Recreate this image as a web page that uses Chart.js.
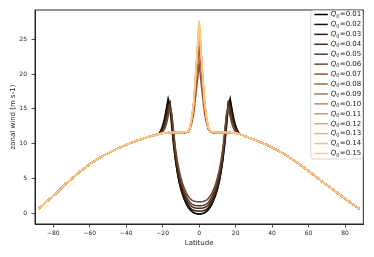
<!DOCTYPE html>
<html>
<head>
<meta charset="utf-8">
<script src="https://cdn.jsdelivr.net/npm/chart.js@4.4.1/dist/chart.umd.min.js"></script>
<style>
  html, body { margin: 0; padding: 0; background: #fff; }
</style>
</head>
<body>
<canvas id="windChart" width="374" height="257"></canvas>
<script>
// ---------- Data ----------
const qLabels = ["0.01","0.02","0.03","0.04","0.05","0.06","0.07","0.08","0.09","0.10","0.11","0.12","0.13","0.14","0.15"];

const outerLatsSouth = [-88,-86,-84,-82,-80,-78,-76,-74,-72,-70,-68,-66,-64,-62,-60,-58,-56,-54,-52,-50,-48,-46,-44,-42,-40,-38,-36,-34,-32,-30,-28,-26,-24];
const outerWindSouth = [0.65,1.1,1.6,2.05,2.5,3.0,3.5,4.05,4.5,4.95,5.4,5.85,6.25,6.65,7.05,7.4,7.75,8.05,8.35,8.65,8.9,9.15,9.4,9.6,9.85,10.05,10.25,10.45,10.6,10.8,10.95,11.1,11.25];

const centerLats = [-22,-21,-20,-19,-18,-17,-16,-15,-14,-13,-12,-11,-10,-9,-8,-7,-6,-5,-4,-3,-2,-1,0,1,2,3,4,5,6,7,8,9,10,11,12,13,14,15,16,17,18,19,20,21,22];

const outerLatsNorth = [24,26,28,30,32,34,36,38,40,42,44,46,48,50,52,54,56,58,60,62,64,66,68,70,72,74,76,78,80,82,84,86,88];
const outerWindNorth = [11.2,11.0,10.8,10.6,10.4,10.15,9.95,9.7,9.45,9.2,8.9,8.6,8.3,7.95,7.6,7.25,6.85,6.45,6.05,5.65,5.25,4.85,4.45,4.05,3.7,3.3,2.9,2.5,2.1,1.7,1.3,0.95,0.65];

// equatorial band (-22..22) for each Q0
const windEq01 = [11.4,11.9,12.6,13.6,15.0,16.5,15.4,12.4,9.8,7.6,5.9,4.5,3.4,2.6,1.9,1.3,0.85,0.5,0.25,0.05,-0.05,-0.1,-0.12,-0.1,-0.05,0.05,0.25,0.5,0.85,1.3,1.9,2.6,3.4,4.5,5.9,7.6,9.8,12.4,15.4,16.5,15.0,13.6,12.6,11.9,11.4];
const windEq02 = [11.4,11.8,12.4,13.3,14.6,16.2,15.8,12.9,10.1,7.8,6.0,4.6,3.5,2.65,1.95,1.35,0.9,0.55,0.3,0.1,0.0,-0.04,-0.05,-0.04,0.0,0.1,0.3,0.55,0.9,1.35,1.95,2.65,3.5,4.6,6.0,7.8,10.1,12.9,15.8,16.2,14.6,13.3,12.4,11.8,11.4];
const windEq03 = [11.4,11.7,12.2,13.0,14.2,15.6,16.0,13.4,10.5,8.1,6.3,4.9,3.8,2.9,2.2,1.6,1.15,0.8,0.57,0.43,0.36,0.33,0.33,0.33,0.36,0.43,0.57,0.8,1.15,1.6,2.2,2.9,3.8,4.9,6.3,8.1,10.5,13.4,16.0,15.6,14.2,13.0,12.2,11.7,11.4];
const windEq04 = [11.4,11.6,12.0,12.7,13.7,15.0,15.8,13.8,10.9,8.5,6.7,5.3,4.2,3.3,2.6,2.0,1.5,1.2,0.95,0.82,0.75,0.72,0.72,0.72,0.75,0.82,0.95,1.2,1.5,2.0,2.6,3.3,4.2,5.3,6.7,8.5,10.9,13.8,15.8,15.0,13.7,12.7,12.0,11.6,11.4];
const windEq05 = [11.4,11.55,11.85,12.4,13.3,14.5,15.4,14.1,11.3,8.9,7.1,5.7,4.6,3.7,3.0,2.4,1.9,1.55,1.32,1.18,1.12,1.09,1.09,1.09,1.12,1.18,1.32,1.55,1.9,2.4,3.0,3.7,4.6,5.7,7.1,8.9,11.3,14.1,15.4,14.5,13.3,12.4,11.85,11.55,11.4];
const windEq06 = [11.4,11.5,11.7,12.1,12.8,13.9,15.0,14.3,11.8,9.4,7.6,6.2,5.1,4.2,3.5,2.9,2.45,2.1,1.88,1.75,1.69,1.67,1.67,1.67,1.69,1.75,1.88,2.1,2.45,2.9,3.5,4.2,5.1,6.2,7.6,9.4,11.8,14.3,15.0,13.9,12.8,12.1,11.7,11.5,11.4];
const windEq07 = [11.4,11.45,11.5,11.5,11.5,11.5,11.5,11.5,11.5,11.5,11.5,11.5,11.5,11.5,11.55,11.6,11.7,12.1,13.0,14.3,16.55,18.9,21.5,18.9,16.55,14.3,13.0,12.1,11.7,11.6,11.55,11.5,11.5,11.5,11.5,11.5,11.5,11.5,11.5,11.5,11.5,11.5,11.5,11.45,11.4];
const windEq08 = [11.4,11.45,11.5,11.55,11.55,11.55,11.55,11.55,11.55,11.55,11.55,11.55,11.55,11.55,11.6,11.65,11.75,12.2,13.3,15.0,17.8,20.8,24.0,20.8,17.8,15.0,13.3,12.2,11.75,11.65,11.6,11.55,11.55,11.55,11.55,11.55,11.55,11.55,11.55,11.55,11.55,11.55,11.5,11.45,11.4];
const windEq09 = [11.4,11.45,11.5,11.55,11.55,11.6,11.6,11.6,11.6,11.6,11.6,11.6,11.6,11.6,11.65,11.7,11.77,12.3,13.6,15.5,18.8,22.3,26.0,22.3,18.8,15.5,13.6,12.3,11.77,11.7,11.65,11.6,11.6,11.6,11.6,11.6,11.6,11.6,11.6,11.6,11.55,11.55,11.5,11.45,11.4];
const windEq10 = [11.4,11.45,11.5,11.55,11.55,11.6,11.6,11.6,11.6,11.6,11.6,11.6,11.6,11.6,11.65,11.7,11.8,12.4,13.8,15.8,19.3,23.0,27.0,23.0,19.3,15.8,13.8,12.4,11.8,11.7,11.65,11.6,11.6,11.6,11.6,11.6,11.6,11.6,11.6,11.6,11.55,11.55,11.5,11.45,11.4];
const windEq11 = [11.4,11.45,11.5,11.55,11.55,11.6,11.6,11.6,11.6,11.6,11.6,11.6,11.6,11.6,11.65,11.7,11.8,12.4,13.8,15.85,19.45,23.2,27.3,23.2,19.45,15.85,13.8,12.4,11.8,11.7,11.65,11.6,11.6,11.6,11.6,11.6,11.6,11.6,11.6,11.6,11.55,11.55,11.5,11.45,11.4];
const windEq12 = [11.4,11.45,11.5,11.55,11.55,11.6,11.6,11.6,11.6,11.6,11.6,11.6,11.6,11.6,11.65,11.7,11.8,12.4,13.8,15.9,19.5,23.3,27.4,23.3,19.5,15.9,13.8,12.4,11.8,11.7,11.65,11.6,11.6,11.6,11.6,11.6,11.6,11.6,11.6,11.6,11.55,11.55,11.5,11.45,11.4];
const windEq13 = [11.4,11.45,11.5,11.55,11.55,11.6,11.6,11.6,11.6,11.6,11.6,11.6,11.6,11.6,11.65,11.7,11.8,12.4,13.85,15.9,19.55,23.4,27.5,23.4,19.55,15.9,13.85,12.4,11.8,11.7,11.65,11.6,11.6,11.6,11.6,11.6,11.6,11.6,11.6,11.6,11.55,11.55,11.5,11.45,11.4];
const windEq14 = [11.4,11.45,11.5,11.55,11.55,11.6,11.6,11.6,11.6,11.6,11.6,11.6,11.6,11.6,11.65,11.7,11.8,12.4,13.85,15.9,19.6,23.4,27.6,23.4,19.6,15.9,13.85,12.4,11.8,11.7,11.65,11.6,11.6,11.6,11.6,11.6,11.6,11.6,11.6,11.6,11.55,11.55,11.5,11.45,11.4];
const windEq15 = [11.4,11.45,11.5,11.55,11.55,11.6,11.6,11.6,11.6,11.6,11.6,11.6,11.6,11.6,11.65,11.7,11.8,12.4,13.85,15.9,19.65,23.5,27.7,23.5,19.65,15.9,13.85,12.4,11.8,11.7,11.65,11.6,11.6,11.6,11.6,11.6,11.6,11.6,11.6,11.6,11.55,11.55,11.5,11.45,11.4];

const equatorialSeries = [windEq01,windEq02,windEq03,windEq04,windEq05,windEq06,windEq07,windEq08,windEq09,windEq10,windEq11,windEq12,windEq13,windEq14,windEq15];

const xTicks = [-80,-60,-40,-20,0,20,40,60,80];
const yTicks = [0,5,10,15,20,25];

// ---------- Helpers ----------
// matplotlib "copper" colormap
function copper(t) {
    const r = Math.min(1, 1.25 * t) * 255;
    const g = 0.7812 * t * 255;
    const b = 0.4975 * t * 255;
    return `rgb(${Math.round(r)},${Math.round(g)},${Math.round(b)})`;
}
function fmtTick(v) {
    return v < 0 ? "\u2212" + Math.abs(v) : String(v);
}

const allLats = [...outerLatsSouth, ...centerLats, ...outerLatsNorth];
const n = qLabels.length;

const datasets = qLabels.map((q, i) => {
    const vals = [...outerWindSouth, ...equatorialSeries[i], ...outerWindNorth];
    return {
        label: "Q0=" + q,
        data: allLats.map((lat, k) => ({ x: lat, y: vals[k] })),
        borderColor: copper(i / (n - 1)),
        borderWidth: 1.5,
        pointRadius: 0,
        tension: 0,
        fill: false,
        order: n - 1 - i
    };
});

// ---------- Plugins ----------
const framePlugin = {
    id: "frame",
    afterDatasetsDraw(chart) {
        const { ctx, chartArea: a } = chart;
        ctx.save();
        ctx.strokeStyle = "#262626";
        ctx.lineWidth = 1;
        ctx.strokeRect(a.left, a.top, a.right - a.left, a.bottom - a.top);
        ctx.restore();
    }
};

const legendPlugin = {
    id: "qLegend",
    afterDraw(chart) {
        const ctx = chart.ctx;
        const a = chart.chartArea;
        const boxW = 53, boxH = 148.5;
        const bx = a.right - boxW + 0.5, by = a.top + 0.5;
        ctx.save();
        ctx.fillStyle = "rgba(255,255,255,0.85)";
        ctx.strokeStyle = "#cccccc";
        ctx.lineWidth = 0.8;
        ctx.beginPath();
        ctx.roundRect(bx, by, boxW - 1, boxH, 2);
        ctx.fill();
        ctx.stroke();
        const rowH = 9.93;
        ctx.textBaseline = "middle";
        chart.data.datasets.forEach((ds, i) => {
            const y = by + 4 + i * rowH;
            ctx.strokeStyle = ds.borderColor;
            ctx.lineWidth = 1.5;
            ctx.beginPath();
            ctx.moveTo(bx + 3.5, y);
            ctx.lineTo(bx + 17, y);
            ctx.stroke();
            let tx = bx + 20;
            ctx.fillStyle = "#222";
            ctx.font = "italic 7px 'DejaVu Sans'";
            ctx.fillText("Q", tx, y);
            tx += ctx.measureText("Q").width;
            ctx.font = "5px 'DejaVu Sans'";
            ctx.fillText("0", tx, y + 1.9);
            tx += ctx.measureText("0").width + 0.3;
            ctx.font = "7px 'DejaVu Sans'";
            ctx.fillText("=" + qLabels[i], tx, y);
        });
        ctx.restore();
    }
};

// ---------- Chart ----------
const fontFamily = "'DejaVu Sans', sans-serif";
new Chart(document.getElementById("windChart").getContext("2d"), {
    type: "line",
    data: { datasets: datasets },
    options: {
        responsive: false,
        animation: false,
        devicePixelRatio: 1,
        layout: { padding: { left: 0, right: 10.7, top: 10, bottom: 0 } },
        plugins: { legend: { display: false }, tooltip: { enabled: false } },
        scales: {
            x: {
                type: "linear",
                min: -90, max: 90,
                afterBuildTicks: s => { s.ticks = xTicks.map(v => ({ value: v })); },
                afterFit: s => { s.height = 33; },
                grid: { display: true, drawOnChartArea: false, drawTicks: true, tickLength: 3.5, color: "#262626", tickWidth: 0.8 },
                border: { display: true, color: "#262626", width: 1 },
                ticks: { color: "#222", font: { family: fontFamily, size: 6 }, padding: 2, maxRotation: 0, autoSkip: false, callback: v => fmtTick(v) },
                title: { display: true, text: "Latitude", color: "#222", font: { family: fontFamily, size: 7 }, padding: { top: 0, bottom: 9.5 } }
            },
            y: {
                type: "linear",
                min: -1.54, max: 29.21,
                afterBuildTicks: s => { s.ticks = yTicks.map(v => ({ value: v })); },
                afterFit: s => { s.width = 35; },
                grid: { display: true, drawOnChartArea: false, drawTicks: true, tickLength: 3.5, color: "#262626", tickWidth: 0.8 },
                border: { display: true, color: "#262626", width: 1 },
                ticks: { color: "#222", font: { family: fontFamily, size: 6 }, padding: 4.5, autoSkip: false, callback: v => fmtTick(v) },
                title: { display: true, text: "zonal wind (m s-1)", color: "#222", font: { family: fontFamily, size: 7 }, padding: { top: 9.1, bottom: 0 } }
            }
        }
    },
    plugins: [framePlugin, legendPlugin]
});
</script>
</body>
</html>
